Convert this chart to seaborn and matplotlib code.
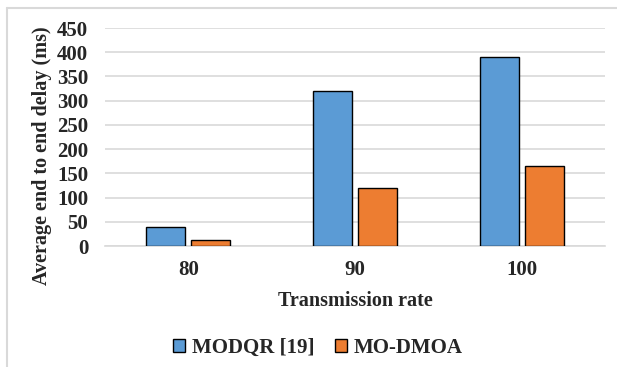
import matplotlib
matplotlib.use("Agg")
import matplotlib.pyplot as plt
from matplotlib.lines import Line2D
from matplotlib.patches import Patch
import seaborn as sns
import pandas as pd

rates = ["80", "90", "100"]
modqr = [40, 320, 390]
mo_dmoa = [12, 120, 165]
series_names = ["MODQR [19]", "MO-DMOA"]
colors = ["#5b9bd5", "#ed7d31"]

df = pd.DataFrame({
    "rate": rates * 2,
    "delay": modqr + mo_dmoa,
    "method": [series_names[0]] * 3 + [series_names[1]] * 3,
})

sns.set_theme(style="white")
plt.rcParams["font.family"] = ["Liberation Serif", "DejaVu Serif"]
plt.rcParams["font.weight"] = "bold"

fig = plt.figure(figsize=(6.17, 3.67), dpi=100)
ax = fig.add_axes([0.170, 0.3297, 0.811, 0.594])

sns.barplot(data=df, x="rate", y="delay", hue="method", order=rates,
            hue_order=series_names, palette=colors, saturation=1,
            width=0.54, gap=0.13, edgecolor="black", linewidth=1.0,
            legend=False, ax=ax, zorder=3)

ax.set_ylim(0, 450)
ax.set_yticks(range(0, 451, 50))
ax.yaxis.grid(True, color="#d9d9d9", linewidth=1.2, zorder=0)
ax.set_axisbelow(True)
for side in ["left", "right", "top"]:
    ax.spines[side].set_visible(False)
ax.spines["bottom"].set_color("#d9d9d9")
ax.spines["bottom"].set_linewidth(1.2)
ax.tick_params(axis="both", length=0, labelsize=15)
ax.tick_params(axis="x", pad=10)
ax.tick_params(axis="y", pad=12)
for lab in ax.get_xticklabels() + ax.get_yticklabels():
    lab.set_fontweight("bold")

ax.set_xlabel("Transmission rate", fontsize=14.5, fontweight="bold", labelpad=8)
ax.set_ylabel("Average end to end delay (ms)", fontsize=14.5, fontweight="bold")
ax.yaxis.set_label_coords(-0.106, 0.413)

handles = [Patch(facecolor=c, edgecolor="black", linewidth=1.0) for c in colors]
fig.legend(handles, series_names, loc="center", bbox_to_anchor=(0.515, 0.052),
           ncol=2, frameon=False, prop={"size": 15, "weight": "bold"},
           handlelength=0.6, handleheight=0.6, handletextpad=0.3, columnspacing=1.0)

# light frame around the chart area
fig.add_artist(Line2D([0.0113, 0.0113], [0.0, 0.978], transform=fig.transFigure,
                      color="#d9d9d9", linewidth=1.5))
fig.add_artist(Line2D([0.0113, 1.0], [0.978, 0.978], transform=fig.transFigure,
                      color="#d9d9d9", linewidth=1.5))

fig.savefig("out.png", dpi=100, facecolor="white")
